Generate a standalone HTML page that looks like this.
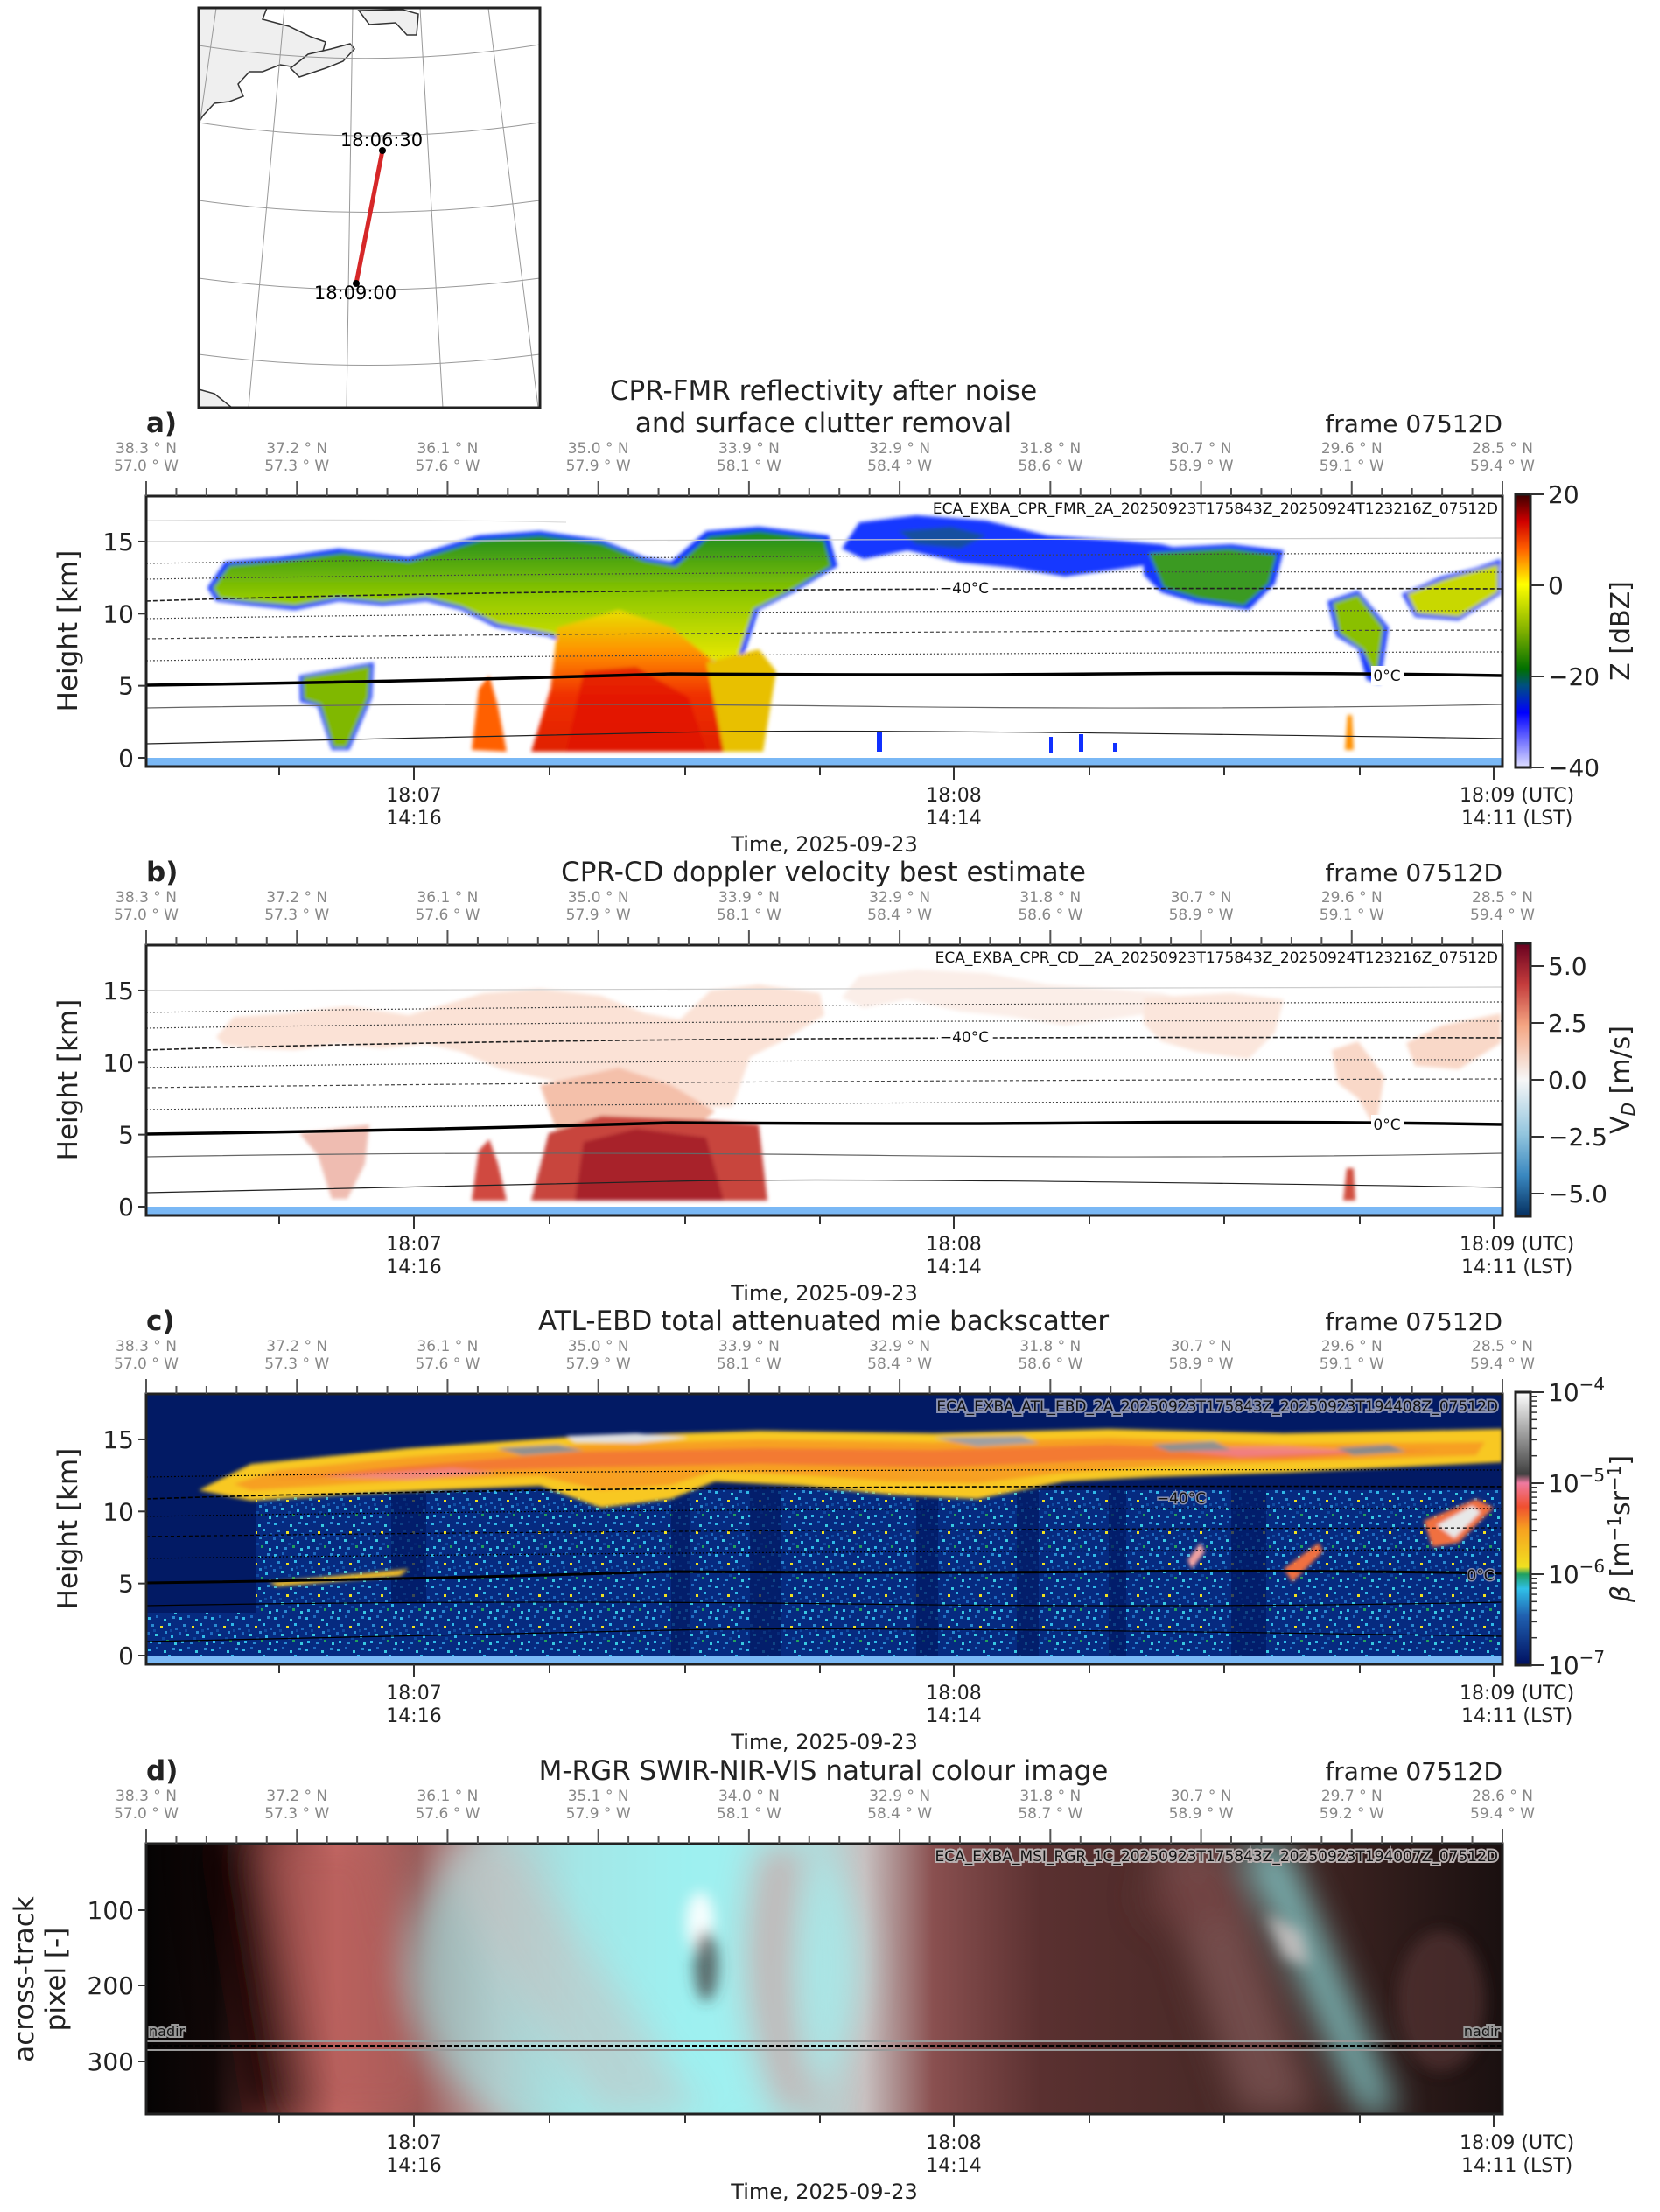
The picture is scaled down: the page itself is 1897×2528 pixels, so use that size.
<!DOCTYPE html>
<html><head><meta charset="utf-8"><style>
html,body{margin:0;padding:0;background:#fff;}
svg{display:block;font-family:"DejaVu Sans","Liberation Sans",sans-serif;}
</style></head><body>
<svg width="1897" height="2528" viewBox="0 0 1897 2528" xmlns="http://www.w3.org/2000/svg">
<defs>
<filter id="bl" x="-5%" y="-5%" width="110%" height="110%"><feGaussianBlur stdDeviation="2"/></filter>
<filter id="bl2" x="-10%" y="-10%" width="120%" height="120%"><feGaussianBlur stdDeviation="8"/></filter>
<filter id="bl3" x="-20%" y="-20%" width="140%" height="140%"><feGaussianBlur stdDeviation="20"/></filter>
<linearGradient id="cbZ" x1="0" y1="0" x2="0" y2="1">
<stop offset="0" stop-color="#3a0000"/><stop offset="0.1" stop-color="#d00000"/><stop offset="0.2" stop-color="#ff6000"/><stop offset="0.33" stop-color="#ffff00"/><stop offset="0.5" stop-color="#80b000"/><stop offset="0.64" stop-color="#007000"/><stop offset="0.7" stop-color="#005080"/><stop offset="0.8" stop-color="#0000ff"/><stop offset="1" stop-color="#e0e0ff"/></linearGradient>
<linearGradient id="cbV" x1="0" y1="0" x2="0" y2="1">
<stop offset="0" stop-color="#67001f"/><stop offset="0.15" stop-color="#c43c3c"/><stop offset="0.3" stop-color="#f4a582"/><stop offset="0.5" stop-color="#f7f7f7"/><stop offset="0.7" stop-color="#92c5de"/><stop offset="0.85" stop-color="#3a88c0"/><stop offset="1" stop-color="#053061"/></linearGradient>
<linearGradient id="cbB" x1="0" y1="0" x2="0" y2="1">
<stop offset="0" stop-color="#ffffff"/><stop offset="0.3" stop-color="#404040"/><stop offset="0.333" stop-color="#f07aa0"/><stop offset="0.42" stop-color="#f05030"/><stop offset="0.5" stop-color="#f7a020"/><stop offset="0.64" stop-color="#f0e020"/><stop offset="0.667" stop-color="#20a060"/><stop offset="0.72" stop-color="#30c0e8"/><stop offset="0.82" stop-color="#2060b0"/><stop offset="1" stop-color="#001060"/></linearGradient>
<linearGradient id="anvA" x1="0" y1="0" x2="0" y2="1">
<stop offset="0" stop-color="#1a8a20"/><stop offset="0.5" stop-color="#90c800"/><stop offset="1" stop-color="#e8e800"/></linearGradient>
<linearGradient id="coreA" x1="0" y1="0" x2="0" y2="1">
<stop offset="0" stop-color="#e8e000"/><stop offset="0.3" stop-color="#ff9000"/><stop offset="0.6" stop-color="#f03000"/><stop offset="1" stop-color="#e02000"/></linearGradient>
<pattern id="spk" width="36" height="36" patternUnits="userSpaceOnUse">
<rect width="36" height="36" fill="#062a80"/>
<rect x="2" y="3" width="3" height="3" fill="#30b8e8"/><rect x="11" y="1" width="3" height="3" fill="#1e6ac0"/><rect x="20" y="5" width="3" height="3" fill="#38c8e0"/><rect x="30" y="2" width="3" height="3" fill="#2a8ad0"/>
<rect x="6" y="11" width="3" height="3" fill="#2a8ad0"/><rect x="16" y="13" width="3" height="3" fill="#f0e020"/><rect x="25" y="10" width="3" height="3" fill="#30b8e8"/><rect x="33" y="15" width="3" height="3" fill="#1e6ac0"/>
<rect x="1" y="20" width="3" height="3" fill="#1e6ac0"/><rect x="10" y="22" width="3" height="3" fill="#38c8e0"/><rect x="21" y="19" width="3" height="3" fill="#2a8ad0"/><rect x="28" y="24" width="3" height="3" fill="#30b8e8"/>
<rect x="4" y="30" width="3" height="3" fill="#30b8e8"/><rect x="14" y="31" width="3" height="3" fill="#2a8ad0"/><rect x="23" y="29" width="3" height="3" fill="#20a060"/><rect x="32" y="32" width="3" height="3" fill="#38c8e0"/>
<rect x="8" y="17" width="3" height="3" fill="#0f4aa0"/><rect x="27" y="17" width="3" height="3" fill="#0f4aa0"/><rect x="18" y="26" width="3" height="3" fill="#0f4aa0"/>
</pattern>
<linearGradient id="rgb" x1="0" y1="0" x2="1" y2="0">
<stop offset="0" stop-color="#050303"/><stop offset="0.05" stop-color="#120808"/><stop offset="0.09" stop-color="#7a3a38"/><stop offset="0.14" stop-color="#c86a66"/><stop offset="0.2" stop-color="#9a5a58"/><stop offset="0.26" stop-color="#c0a0a0"/><stop offset="0.32" stop-color="#a8d8d8"/><stop offset="0.4" stop-color="#9aeeee"/><stop offset="0.48" stop-color="#a8e8e8"/><stop offset="0.53" stop-color="#c8c0c0"/><stop offset="0.58" stop-color="#8a5050"/><stop offset="0.66" stop-color="#5a3030"/><stop offset="0.78" stop-color="#4a2a28"/><stop offset="0.88" stop-color="#3a2220"/><stop offset="1" stop-color="#1a1010"/></linearGradient>
</defs>

<!-- MAP -->
<g>
<rect x="227" y="9" width="390" height="457" fill="#fff"/>
<path d="M227,9 L305,9 L300,22 L330,30 L355,42 L372,48 L368,62 L345,78 L320,74 L300,82 L285,82 L272,96 L278,110 L262,116 L245,118 L232,132 L227,140 Z" fill="#efefef" stroke="#333" stroke-width="1.5"/>
<path d="M332,78 L352,62 L378,56 L400,50 L405,56 L392,70 L372,78 L342,88 Z" fill="#efefef" stroke="#333" stroke-width="1.5"/>
<path d="M410,12 L460,11 L478,16 L476,40 L465,40 L452,26 L422,28 Z" fill="#efefef" stroke="#333" stroke-width="1.5"/>
<path d="M227,445 L245,450 L265,466 L227,466 Z" fill="#efefef" stroke="#333" stroke-width="1.5"/>
<g fill="none" stroke="#999" stroke-width="1">
<path d="M227,52 Q420,82 617,51"/><path d="M227,140 Q420,170 617,140"/><path d="M227,229 Q420,256 617,229"/><path d="M227,318 Q420,344 617,318"/><path d="M227,405 Q420,430 617,405"/>
<path d="M247,9 L227,150"/><path d="M325,9 L284,466"/><path d="M403,9 L396,466"/><path d="M480,9 L506,466"/><path d="M558,9 L615,466"/>
</g>
<line x1="437" y1="172" x2="407" y2="324" stroke="#d62728" stroke-width="5"/>
<circle cx="437" cy="172" r="4" fill="#000"/><circle cx="407" cy="324" r="4" fill="#000"/>
<text x="436" y="167" font-size="21" text-anchor="middle">18:06:30</text>
<text x="406" y="342" font-size="21" text-anchor="middle">18:09:00</text>
<rect x="227" y="9" width="390" height="457" fill="none" stroke="#222" stroke-width="3"/>
</g>

<!-- ===== PANEL A ===== -->
<g transform="translate(167,567)">
<text x="774" y="-110" font-size="31" text-anchor="middle" fill="#222">CPR-FMR reflectivity after noise</text>
<text x="774" y="-73" font-size="31" text-anchor="middle" fill="#222">and surface clutter removal</text>
<text x="0" y="-73" font-size="31" font-weight="bold" fill="#222">a)</text>
<text x="1550" y="-73" font-size="28" text-anchor="end" fill="#222">frame 07512D</text>
<rect x="0" y="0" width="1550" height="309" fill="#fff"/>
<g filter="url(#bl)">
<path d="M70,105 L90,75 L150,70 L220,60 L300,70 L380,45 L450,40 L520,50 L570,70 L600,75 L640,40 L700,35 L780,45 L790,80 L740,110 L700,130 L680,190 L600,190 L520,190 L460,160 L400,150 L360,130 L320,120 L270,125 L220,120 L170,130 L120,125 L80,120 Z" fill="#1030ff"/>
<path d="M76,105 L95,79 L155,74 L225,65 L300,75 L383,50 L450,45 L520,54 L570,74 L605,80 L643,46 L700,40 L775,50 L783,80 L735,109 L695,129 L675,187 L600,188 L522,187 L462,157 L402,146 L360,126 L320,116 L270,121 L220,116 L170,125 L120,121 L84,117 Z" fill="url(#anvA)"/>
<path d="M795,60 L815,30 L880,22 L960,28 L1030,45 L1100,50 L1160,55 L1200,65 L1170,75 L1100,85 L1050,92 L990,82 L930,76 L870,62 L820,72 Z" fill="#1838ff"/>
<path d="M860,40 L920,35 L960,45 L930,60 L880,55 Z" fill="#106060" opacity="0.6"/>
<path d="M1140,60 L1240,55 L1300,62 L1290,100 L1260,130 L1200,122 L1160,110 L1140,90 Z" fill="#1838ff"/>
<path d="M1146,65 L1237,60 L1292,67 L1283,100 L1255,125 L1203,117 L1163,105 Z" fill="#3a9a20"/>
<path d="M1435,112 L1480,92 L1520,82 L1548,72 L1548,112 L1500,142 L1450,138 Z" fill="#1838ff"/>
<path d="M1441,112 L1482,96 L1545,78 L1545,110 L1500,138 L1452,134 Z" fill="#c8d800"/>
<path d="M1350,120 L1385,108 L1420,150 L1410,215 L1395,210 L1385,175 L1360,160 Z" fill="#1838ff"/>
<path d="M1356,122 L1385,113 L1414,150 L1406,208 L1390,175 L1364,157 Z" fill="#8ac000"/>
<path d="M470,150 L540,130 L600,150 L650,190 L680,240 L690,292 L440,292 L462,220 Z" fill="url(#coreA)"/>
<path d="M500,200 L560,195 L620,230 L640,290 L480,292 Z" fill="#e01000" opacity="0.7"/>
<path d="M640,190 L700,175 L720,200 L705,292 L660,292 Z" fill="#e8c000"/>
<path d="M175,205 L260,190 L258,230 L232,290 L212,290 L196,240 L176,235 Z" fill="#1838ff"/>
<path d="M179,207 L256,194 L254,230 L229,287 L214,287 L199,238 L180,232 Z" fill="#80b800"/>
<path d="M372,290 L380,220 L392,205 L402,240 L412,292 Z" fill="#ff6000"/>
<path d="M1370,290 L1373,250 L1378,250 L1380,290 Z" fill="#ff9000"/>
</g>
<g fill="#1030ff"><rect x="835" y="270" width="6" height="22"/><rect x="1032" y="275" width="4" height="18"/><rect x="1066" y="272" width="5" height="20"/><rect x="1105" y="282" width="4" height="10"/></g>
<g fill="none" stroke-width="1.2">
<path d="M0,283 Q400,275 600,270 T1550,277" stroke="#222"/>
<path d="M0,242 Q400,235 800,240 T1550,238" stroke="#666"/>
<path d="M0,216 Q300,212 600,203 Q900,205 1100,203 T1550,205" stroke="#000" stroke-width="3.5"/>
<path d="M0,188 Q600,180 1550,178" stroke="#444" stroke-dasharray="2,2"/>
<path d="M0,163 Q600,155 1550,153" stroke="#444" stroke-dasharray="4,3"/>
<path d="M0,140 Q600,130 1550,131" stroke="#444" stroke-dasharray="2,2"/>
<path d="M0,120 Q500,103 1550,106" stroke="#222" stroke-dasharray="5,3" stroke-width="1.6"/>
<path d="M0,95 Q600,85 1550,87" stroke="#444" stroke-dasharray="2,2"/>
<path d="M0,77 Q600,68 1550,65" stroke="#444" stroke-dasharray="2,2"/>
<path d="M0,52 Q600,48 1550,48" stroke="#ccc"/>
<path d="M0,28 Q300,26 480,30" stroke="#ddd"/>
</g>
<rect x="905" y="94" width="60" height="22" fill="#fff"/>
<text x="935" y="111" font-size="17" text-anchor="middle" fill="#111">−40°C</text>
<rect x="1400" y="194" width="38" height="22" fill="#fff"/>
<text x="1418" y="211" font-size="17" text-anchor="middle" fill="#111">0°C</text>
<rect x="0" y="299" width="1550" height="9" fill="#7ab8f5"/>
<text x="1545" y="20" font-size="17" text-anchor="end" fill="#111">ECA_EXBA_CPR_FMR_2A_20250923T175843Z_20250924T123216Z_07512D</text>
<rect x="0" y="0" width="1550" height="309" fill="none" stroke="#222" stroke-width="3"/>
</g>

<!-- ===== PANEL B ===== -->
<g transform="translate(167,1080)">
<text x="774" y="-73" font-size="31" text-anchor="middle" fill="#222">CPR-CD doppler velocity best estimate</text>
<text x="0" y="-73" font-size="31" font-weight="bold" fill="#222">b)</text>
<text x="1550" y="-73" font-size="28" text-anchor="end" fill="#222">frame 07512D</text>
<rect x="0" y="0" width="1550" height="309" fill="#fff"/>
<g filter="url(#bl)">
<path d="M80,105 L100,82 L160,78 L230,70 L300,80 L385,55 L450,50 L520,58 L570,78 L610,85 L645,52 L700,45 L770,55 L775,80 L730,108 L690,128 L670,185 L600,186 L525,185 L465,155 L405,142 L360,122 L320,113 L270,118 L220,113 L170,120 L120,118 L88,114 Z" fill="#fbe2d6"/>
<path d="M795,60 L815,35 L880,28 L960,32 L1030,45 L1100,50 L1160,55 L1200,65 L1170,75 L1100,85 L1050,92 L990,82 L930,76 L870,62 L820,72 Z" fill="#fbeee8"/>
<path d="M1140,60 L1240,55 L1300,62 L1290,100 L1260,130 L1200,122 L1160,110 L1140,90 Z" fill="#fbe6dc"/>
<path d="M1440,112 L1480,92 L1548,78 L1548,112 L1500,142 L1450,138 Z" fill="#f9d8c8"/>
<path d="M1355,120 L1385,110 L1415,150 L1405,210 L1385,175 L1362,158 Z" fill="#f9d8c8"/>
<path d="M450,160 L540,140 L600,160 L650,190 L620,215 L470,215 Z" fill="#f4c0aa"/>
<path d="M460,215 L520,195 L640,200 L700,205 L710,292 L440,292 Z" fill="#c8453c"/>
<path d="M500,225 L560,210 L640,220 L660,292 L490,292 Z" fill="#a01c26" opacity="0.8"/>
<path d="M175,215 L255,205 L250,250 L230,290 L212,290 L196,240 Z" fill="#e8a090" opacity="0.7"/>
<path d="M372,292 L380,235 L392,222 L402,250 L412,292 Z" fill="#d04a40"/>
<path d="M1368,292 L1372,255 L1380,255 L1382,292 Z" fill="#d05040"/>
</g>
<g fill="none" stroke-width="1.2">
<path d="M0,283 Q400,275 600,270 T1550,277" stroke="#222"/>
<path d="M0,242 Q400,235 800,240 T1550,238" stroke="#666"/>
<path d="M0,216 Q300,212 600,203 Q900,205 1100,203 T1550,205" stroke="#000" stroke-width="3.5"/>
<path d="M0,188 Q600,180 1550,178" stroke="#444" stroke-dasharray="2,2"/>
<path d="M0,163 Q600,155 1550,153" stroke="#444" stroke-dasharray="4,3"/>
<path d="M0,140 Q600,130 1550,131" stroke="#444" stroke-dasharray="2,2"/>
<path d="M0,120 Q500,103 1550,106" stroke="#222" stroke-dasharray="5,3" stroke-width="1.6"/>
<path d="M0,95 Q600,85 1550,87" stroke="#444" stroke-dasharray="2,2"/>
<path d="M0,77 Q600,68 1550,65" stroke="#444" stroke-dasharray="2,2"/>
<path d="M0,52 Q600,48 1550,48" stroke="#ccc"/>
</g>
<rect x="905" y="94" width="60" height="22" fill="#fff"/>
<text x="935" y="111" font-size="17" text-anchor="middle" fill="#111">−40°C</text>
<rect x="1400" y="194" width="38" height="22" fill="#fff"/>
<text x="1418" y="211" font-size="17" text-anchor="middle" fill="#111">0°C</text>
<rect x="0" y="299" width="1550" height="9" fill="#7ab8f5"/>
<text x="1545" y="20" font-size="17" text-anchor="end" fill="#111">ECA_EXBA_CPR_CD__2A_20250923T175843Z_20250924T123216Z_07512D</text>
<rect x="0" y="0" width="1550" height="309" fill="none" stroke="#222" stroke-width="3"/>
</g>

<!-- ===== PANEL C ===== -->
<g transform="translate(167,1593)">
<text x="774" y="-73" font-size="31" text-anchor="middle" fill="#222">ATL-EBD total attenuated mie backscatter</text>
<text x="0" y="-73" font-size="31" font-weight="bold" fill="#222">c)</text>
<text x="1550" y="-73" font-size="28" text-anchor="end" fill="#222">frame 07512D</text>
<rect x="0" y="0" width="1550" height="309" fill="#021a64"/>
<rect x="126" y="110" width="1424" height="189" fill="url(#spk)"/>
<rect x="0" y="250" width="126" height="49" fill="url(#spk)"/>
<g fill="#021a64" opacity="0.75"><rect x="280" y="110" width="40" height="130"/><rect x="600" y="110" width="22" height="189"/><rect x="690" y="110" width="35" height="189"/><rect x="880" y="110" width="25" height="189"/><rect x="995" y="110" width="25" height="189"/><rect x="1100" y="110" width="20" height="189"/><rect x="1240" y="110" width="40" height="189"/></g>
<g filter="url(#bl)">
<path d="M60,110 L120,80 L300,62 L500,48 L700,42 L900,45 L1100,40 L1300,45 L1550,40 L1550,78 L1300,90 L1150,95 L1050,100 L950,120 L850,115 L750,105 L650,100 L600,120 L520,130 L450,105 L330,110 L230,115 L120,122 Z" fill="#f8c820"/>
<path d="M100,103 L150,87 L300,72 L500,58 L700,52 L900,55 L1100,50 L1300,57 L1530,55 L1520,70 L1300,78 L1150,83 L1050,90 L950,102 L850,100 L750,93 L650,88 L600,104 L520,110 L450,94 L330,98 L230,103 L120,110 Z" fill="#f7a020"/>
<path d="M140,98 L300,82 L500,66 L700,62 L900,64 L1100,58 L1300,65 L1480,64 L1300,74 L1100,76 L900,84 L700,80 L500,84 L300,90 Z" fill="#f06040" opacity="0.6"/>
<path d="M200,95 L350,85 L400,90 L300,98 Z" fill="#f080a0" opacity="0.7"/>
<path d="M1150,62 L1300,60 L1400,66 L1250,72 Z" fill="#f080a0" opacity="0.7"/>
<path d="M480,48 L560,45 L620,50 L560,56 L490,55 Z" fill="#e0e0e0"/>
<path d="M400,62 L470,58 L500,65 L430,70 Z" fill="#909090"/>
<path d="M900,50 L1000,48 L1020,56 L950,60 Z" fill="#a0a0a0"/>
<path d="M1150,58 L1220,54 L1240,64 L1170,66 Z" fill="#909090"/>
<path d="M1360,62 L1420,58 L1440,66 L1380,70 Z" fill="#8a8a8a"/>
<path d="M1460,145 L1520,120 L1540,130 L1500,170 L1470,175 Z" fill="#f07040"/>
<path d="M1475,150 L1515,128 L1525,135 L1495,165 Z" fill="#e8e8e8"/>
<path d="M1300,200 L1340,170 L1345,180 L1310,215 Z" fill="#f07040"/>
<path d="M140,215 L250,205 L300,200 L290,208 L150,220 Z" fill="#f8c020"/>
<path d="M1190,190 L1205,170 L1210,180 L1195,200 Z" fill="#f0a0a0"/>
</g>
<g fill="none" stroke="#000" stroke-width="1.2">
<path d="M0,283 Q400,275 600,270 T1550,277"/>
<path d="M0,242 Q400,235 800,240 T1550,238"/>
<path d="M0,216 Q300,212 600,203 Q900,205 1100,203 T1550,205" stroke-width="3"/>
<path d="M0,188 Q600,180 1550,178" stroke-dasharray="2,2"/>
<path d="M0,163 Q600,155 1550,153" stroke-dasharray="4,3"/>
<path d="M0,140 Q600,130 1550,131" stroke-dasharray="2,2"/>
<path d="M0,120 Q500,103 1550,106" stroke-dasharray="5,3" stroke-width="1.6"/>
<path d="M0,95 Q600,85 1550,87" stroke-dasharray="2,2"/>
</g>
<text x="1183" y="125" font-size="17" text-anchor="middle" fill="#111" stroke="#8890b0" stroke-width="3" paint-order="stroke">−40°C</text>
<text x="1525" y="213" font-size="17" text-anchor="middle" fill="#111" stroke="#8890b0" stroke-width="3" paint-order="stroke">0°C</text>
<rect x="0" y="299" width="1550" height="9" fill="#7ab8f5"/>
<text x="1545" y="20" font-size="17" text-anchor="end" fill="#111" stroke="#8890b0" stroke-width="4" paint-order="stroke">ECA_EXBA_ATL_EBD_2A_20250923T175843Z_20250923T194408Z_07512D</text>
<rect x="0" y="0" width="1550" height="309" fill="none" stroke="#222" stroke-width="3"/>
</g>

<!-- ===== PANEL D ===== -->
<g transform="translate(167,2107)">
<text x="774" y="-73" font-size="31" text-anchor="middle" fill="#222">M-RGR SWIR-NIR-VIS natural colour image</text>
<text x="0" y="-73" font-size="31" font-weight="bold" fill="#222">d)</text>
<text x="1550" y="-73" font-size="28" text-anchor="end" fill="#222">frame 07512D</text>
<svg x="0" y="0" width="1550" height="309" overflow="hidden">
<rect width="1550" height="309" fill="url(#rgb)"/>
<g filter="url(#bl3)">
<path d="M60,0 L140,0 L200,309 L110,309 Z" fill="#0a0505" opacity="0.8"/>
<path d="M120,0 L260,0 L330,309 L170,309 Z" fill="#b05a58" opacity="0.6"/>
<ellipse cx="560" cy="140" rx="260" ry="220" fill="#a0f2f2" opacity="0.55"/>
<path d="M330,0 L420,0 Q560,200 640,309 L520,309 Q400,150 330,0 Z" fill="#c8c0c0" opacity="0.5"/>
<path d="M700,0 L760,0 Q720,200 780,309 L720,309 Q660,160 700,0 Z" fill="#e08080" opacity="0.5"/>
<path d="M1250,0 L1300,0 L1430,309 L1390,309 Z" fill="#90e8e8" opacity="0.8"/>
<path d="M1150,0 L1230,0 L1340,309 L1250,309 Z" fill="#a07070" opacity="0.5"/>
<ellipse cx="1200" cy="60" rx="60" ry="40" fill="#704040" opacity="0.6"/>
</g>
<g filter="url(#bl2)">
<ellipse cx="633" cy="90" rx="16" ry="35" fill="#ffffff" opacity="0.9"/>
<ellipse cx="640" cy="140" rx="14" ry="40" fill="#403838" opacity="0.7"/>
<path d="M1280,80 L1320,100 L1330,140 L1300,130 Z" fill="#e0d0d0" opacity="0.7"/>
<ellipse cx="1480" cy="180" rx="50" ry="80" fill="#5a3838" opacity="0.6"/>
</g>
</svg>
<line x1="0" y1="226" x2="1550" y2="226" stroke="#999" stroke-width="2"/>
<line x1="0" y1="236" x2="1550" y2="236" stroke="#999" stroke-width="2"/>
<line x1="0" y1="231" x2="1550" y2="231" stroke="#000" stroke-width="2" stroke-dasharray="5,3"/>
<text x="3" y="220" font-size="16" fill="#111" stroke="#999" stroke-width="4" paint-order="stroke">nadir</text>
<text x="1547" y="220" font-size="16" text-anchor="end" fill="#111" stroke="#999" stroke-width="4" paint-order="stroke">nadir</text>
<text x="1545" y="20" font-size="17" text-anchor="end" fill="#111" stroke="#b8b0b0" stroke-width="4" paint-order="stroke">ECA_EXBA_MSI_RGR_1C_20250923T175843Z_20250923T194007Z_07512D</text>
<rect x="0" y="0" width="1550" height="309" fill="none" stroke="#222" stroke-width="3"/>
</g>

<g id="axes" font-size="22" fill="#222"></g>
<script>
(function(){
var NS="http://www.w3.org/2000/svg";
var root=document.getElementById("axes");
function el(t,a,txt){var e=document.createElementNS(NS,t);for(var k in a)e.setAttribute(k,a[k]);if(txt!==undefined)e.textContent=txt;root.appendChild(e);return e;}
var tops=[567,1080,1593,2107],L=167,W=1550,H=309;
var latA=[["38.3","57.0"],["37.2","57.3"],["36.1","57.6"],["35.0","57.9"],["33.9","58.1"],["32.9","58.4"],["31.8","58.6"],["30.7","58.9"],["29.6","59.1"],["28.5","59.4"]];
var latD=[["38.3","57.0"],["37.2","57.3"],["36.1","57.6"],["35.1","57.9"],["34.0","58.1"],["32.9","58.4"],["31.8","58.7"],["30.7","58.9"],["29.7","59.2"],["28.6","59.4"]];
var bt=[152,306,461,616,770,923,1078,1232,1387,1540];
tops.forEach(function(T,p){
 var lat=p==3?latD:latA;
 for(var i=0;i<=45;i++){var x=L+i*W/45;var maj=i%5==0;el("line",{x1:x,x2:x,y1:T-(maj?17:9),y2:T,stroke:"#555","stroke-width":2});}
 for(var i=0;i<10;i++){var x=L+i*W/9;
  el("text",{x:x,y:T-49,"font-size":17,fill:"#888","text-anchor":"middle"},lat[i][0]+" \u00b0 N");
  el("text",{x:x,y:T-29,"font-size":17,fill:"#888","text-anchor":"middle"},lat[i][1]+" \u00b0 W");
 }
 var B=T+H;
 bt.forEach(function(x,i){var big=(i==1||i==5||i==9);el("line",{x1:L+x,x2:L+x,y1:B,y2:B+(big?15:10),stroke:"#333","stroke-width":2});});
 el("text",{x:L+306,y:B+40,"text-anchor":"middle","font-size":22},"18:07");
 el("text",{x:L+306,y:B+66,"text-anchor":"middle","font-size":22},"14:16");
 el("text",{x:L+923,y:B+40,"text-anchor":"middle","font-size":22},"18:08");
 el("text",{x:L+923,y:B+66,"text-anchor":"middle","font-size":22},"14:14");
 el("text",{x:1668,y:B+40,"font-size":22},"18:09 (UTC)");
 el("text",{x:1670,y:B+66,"font-size":22},"14:11 (LST)");
 el("text",{x:L+775,y:B+97,"text-anchor":"middle","font-size":24},"Time, 2025-09-23");
 if(p<3){
  [0,5,10,15].forEach(function(h){var y=T+299-16.47*h;el("line",{x1:L-9,x2:L,y1:y,y2:y,stroke:"#333","stroke-width":2});el("text",{x:L-14,y:y+10,"text-anchor":"end","font-size":28},String(h));});
  el("text",{x:88,y:T+154,"text-anchor":"middle","font-size":31,transform:"rotate(-90 88 "+(T+154)+")"},"Height [km]");
  var cx=1732,cw=17,ct=T-2,ch=312;
  var g=["cbZ","cbV","cbB"][p];
  el("rect",{x:cx,y:ct,width:cw,height:ch,fill:"url(#"+g+")",stroke:"#222","stroke-width":3});
  var ticks=[];
  if(p==0){ticks=[[0,"20"],[1/3,"0"],[2/3,"\u221220"],[1,"\u221240"]];}
  if(p==1){ticks=[[1/12,"5.0"],[3.5/12,"2.5"],[0.5,"0.0"],[8.5/12,"\u22122.5"],[11/12,"\u22125.0"]];}
  ticks.forEach(function(t){var y=ct+t[0]*ch;el("line",{x1:cx+cw,x2:cx+cw+15,y1:y,y2:y,stroke:"#333","stroke-width":2});el("text",{x:cx+cw+20,y:y+10,"font-size":28},t[1]);});
  if(p==2){
   for(var d=0;d<3;d++){for(var m=2;m<10;m++){var y=ct+ch-(d+Math.log10(m))/3*ch;el("line",{x1:cx+cw,x2:cx+cw+8,y1:y,y2:y,stroke:"#333","stroke-width":1.5});}}
   [["4",0],["5",1/3],["6",2/3],["7",1]].forEach(function(t){var y=ct+t[1]*ch;el("line",{x1:cx+cw,x2:cx+cw+15,y1:y,y2:y,stroke:"#333","stroke-width":2});var tx=el("text",{x:cx+cw+20,y:y+10,"font-size":28},"10");var ts=document.createElementNS(NS,"tspan");ts.setAttribute("dy","-12");ts.setAttribute("font-size","20");ts.textContent="\u2212"+t[0];tx.appendChild(ts);});
  }
  var lx=1862,ly=T+154;
  var t=el("text",{x:lx,y:ly,"text-anchor":"middle","font-size":30,transform:"rotate(-90 "+lx+" "+ly+")"});
  function sp(txt,attrs){var s=document.createElementNS(NS,"tspan");for(var k in attrs)s.setAttribute(k,attrs[k]);s.textContent=txt;t.appendChild(s);}
  if(p==0){t.textContent="Z [dBZ]";}
  else if(p==1){sp("V",{});sp("D",{"font-size":20,dy:6,"font-style":"italic"});sp(" [m/s]",{dy:-6});}
  else {sp("\u03b2",{"font-style":"italic"});sp(" [m",{});sp("\u22121",{dy:-10,"font-size":20});sp("sr",{dy:10});sp("\u22121",{dy:-10,"font-size":20});sp("]",{dy:10});}
 } else {
  [[100,76],[200,162],[300,249]].forEach(function(v){var y=T+v[1];el("line",{x1:L-9,x2:L,y1:y,y2:y,stroke:"#333","stroke-width":2});el("text",{x:L-14,y:y+10,"text-anchor":"end","font-size":28},String(v[0]));});
  el("text",{x:38,y:T+155,"text-anchor":"middle","font-size":31,transform:"rotate(-90 38 "+(T+155)+")"},"across-track");
  el("text",{x:74,y:T+155,"text-anchor":"middle","font-size":31,transform:"rotate(-90 74 "+(T+155)+")"},"pixel [-]");
 }
});
})();
</script>
</svg>
</body></html>
